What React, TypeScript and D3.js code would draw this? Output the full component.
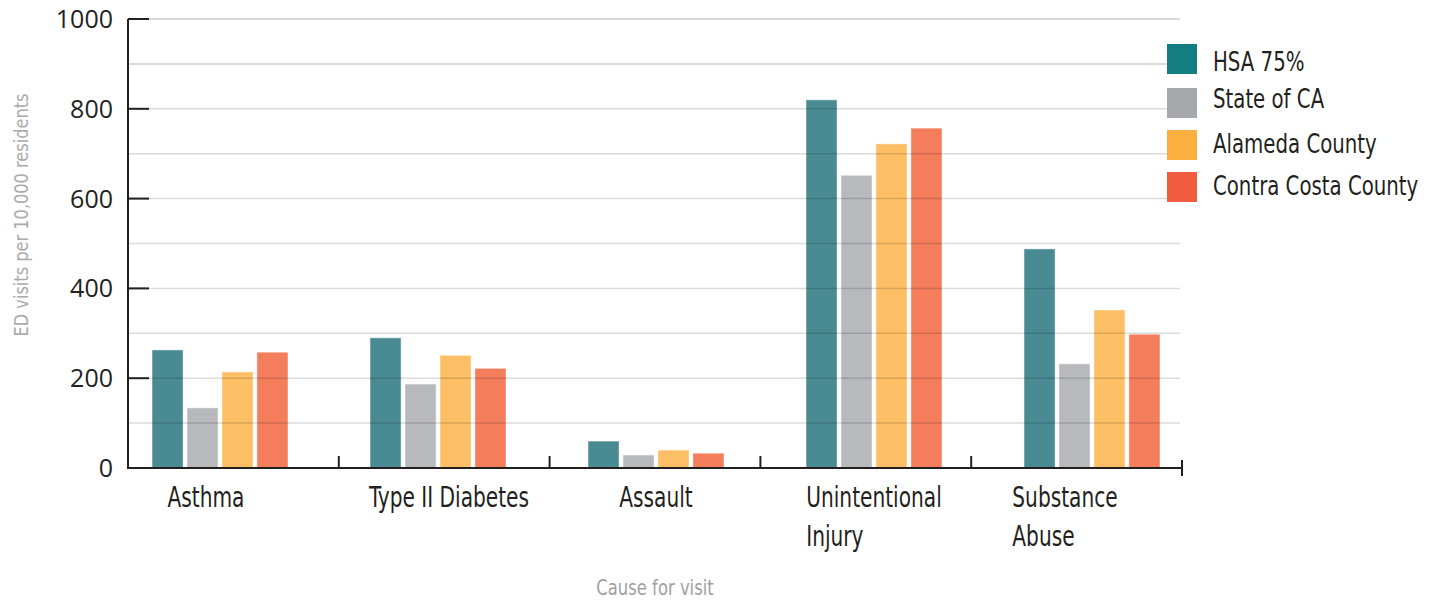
import { useRef, useEffect } from 'react';
import * as d3 from 'd3';

const CATEGORIES = ['Asthma', 'Type II Diabetes', 'Assault', 'Unintentional Injury', 'Substance Abuse'];
const CATEGORY_LINES = [['Asthma'], ['Type II Diabetes'], ['Assault'], ['Unintentional', 'Injury'], ['Substance', 'Abuse']];
const SERIES = ['HSA 75%', 'State of CA', 'Alameda County', 'Contra Costa County'];

const HSA = [263, 290, 60, 820, 488];
const STATE = [134, 187, 29, 652, 232];
const ALAMEDA = [214, 251, 40, 722, 352];
const CONTRA = [258, 222, 33, 757, 298];
const VALUES = [HSA, STATE, ALAMEDA, CONTRA];

const Y_TICKS = [0, 200, 400, 600, 800, 1000];
const GRID_TICKS = d3.range(100, 1001, 100);

const LEGEND_COLORS = ['#127e82', '#a7a8ab', '#fbaf3e', '#f15b40'];
const BAR_COLORS = ['#4a8b93', '#b8b9bc', '#fcbf66', '#f47d5c'];

const NARROW = "'DejaVu Sans Condensed', 'DejaVu Sans', sans-serif";

const WIDTH = 1436;
const HEIGHT = 601;

export default function App() {
  const svgRef = useRef<SVGSVGElement>(null);

  useEffect(() => {
    document.body.style.margin = '0';
    if (!svgRef.current) return;
    const svg = d3.select(svgRef.current);
    svg.selectAll('*').remove();

    const left = 128;
    const right = 1182;
    const top = 19;
    const bottom = 468;

    const y = d3.scaleLinear().domain([0, 1000]).range([bottom, top]);

    // category boundaries for the axis ticks
    const xAxis = d3.scaleBand().domain(CATEGORIES).range([left, right]);

    // bar groups
    const x0 = d3.scaleBand().domain(CATEGORIES).range([152, 1160]).paddingInner(0.376).paddingOuter(0);
    const x1 = d3.scaleBand().domain(SERIES).range([0, x0.bandwidth()]).paddingInner(0.11);

    // bars
    SERIES.forEach((s, si) => {
      svg
        .append('g')
        .selectAll('rect')
        .data(VALUES[si])
        .join('rect')
        .attr('x', (_, i) => (x0(CATEGORIES[i]) as number) + (x1(s) as number))
        .attr('y', (d) => y(d))
        .attr('width', x1.bandwidth())
        .attr('height', (d) => bottom - y(d))
        .attr('fill', BAR_COLORS[si])
        .attr('stroke', 'rgba(255,255,255,0.5)')
        .attr('stroke-width', 1);
    });

    // gridlines drawn on top, translucent
    svg
      .append('g')
      .selectAll('line')
      .data(GRID_TICKS)
      .join('line')
      .attr('x1', left)
      .attr('x2', right - 2)
      .attr('y1', (d) => y(d))
      .attr('y2', (d) => y(d))
      .attr('stroke', '#000')
      .attr('stroke-opacity', (d) => (d >= 900 ? 0.2 : 0.14))
      .attr('stroke-width', 1.5);

    // y axis
    const axisColor = '#231f20';
    svg
      .append('line')
      .attr('x1', left)
      .attr('x2', left)
      .attr('y1', top)
      .attr('y2', bottom)
      .attr('stroke', axisColor)
      .attr('stroke-width', 2);
    svg
      .append('g')
      .selectAll('line')
      .data(Y_TICKS)
      .join('line')
      .attr('x1', left)
      .attr('x2', left + 21)
      .attr('y1', (d) => y(d))
      .attr('y2', (d) => y(d))
      .attr('stroke', axisColor)
      .attr('stroke-width', 2);
    svg
      .append('g')
      .selectAll('text')
      .data(Y_TICKS)
      .join('text')
      .attr('x', 113)
      .attr('y', (d) => y(d) + 9)
      .attr('text-anchor', 'end')
      .attr('font-family', "'Open Sans', sans-serif")
      .attr('font-size', 25)
      .attr('fill', '#222')
      .text((d) => String(d));

    // x axis
    svg
      .append('line')
      .attr('x1', left - 1)
      .attr('x2', right)
      .attr('y1', bottom)
      .attr('y2', bottom)
      .attr('stroke', axisColor)
      .attr('stroke-width', 2);
    const bounds = CATEGORIES.slice(1).map((c) => xAxis(c) as number).concat([right]);
    svg
      .append('g')
      .selectAll('line')
      .data(bounds)
      .join('line')
      .attr('x1', (d) => d)
      .attr('x2', (d) => d)
      .attr('y1', (_, i) => (i === bounds.length - 1 ? bottom - 8 : bottom - 12))
      .attr('y2', (_, i) => (i === bounds.length - 1 ? bottom + 8 : bottom))
      .attr('stroke', axisColor)
      .attr('stroke-width', 2);

    // the original uses a condensed face; squeeze the fallback horizontally
    const narrowText = (x: number, yy: number, f: number) =>
      svg
        .append('text')
        .attr('transform', `translate(${x},${yy}) scale(${f},1)`)
        .attr('font-family', NARROW);

    // legend
    const legendTops = [44, 88, 130, 172];
    const legendBase = [71, 108, 153, 195];
    SERIES.forEach((s, i) => {
      svg
        .append('rect')
        .attr('x', 1167)
        .attr('y', legendTops[i])
        .attr('width', 30)
        .attr('height', 30)
        .attr('fill', LEGEND_COLORS[i]);
      narrowText(1213, legendBase[i], 0.845)
        .attr('font-size', 26)
        .attr('fill', '#231f20')
        .text(s);
    });

    // category labels: left-aligned blocks, nudged as in the original layout
    const labelShift = [-14, 11, 0, 0, -27];
    const LF = 0.8;
    CATEGORY_LINES.forEach((lines, i) => {
      const cx = (x0(CATEGORIES[i]) as number) + x0.bandwidth() / 2 + labelShift[i];
      const t = narrowText(0, 0, LF).attr('font-size', 28).attr('fill', '#231f20');
      const spans = lines.map((ln, li) => t.append('tspan').attr('x', 0).attr('y', 507 + li * 39).text(ln));
      const w = d3.max(spans, (sp) => (sp.node() as SVGTSpanElement).getComputedTextLength()) || 0;
      t.attr('transform', `translate(${cx - (w * LF) / 2},0) scale(${LF},1)`);
    });

    // axis titles
    svg
      .append('text')
      .attr('transform', `translate(28, 215) rotate(-90) scale(0.9,1)`)
      .attr('text-anchor', 'middle')
      .attr('font-family', NARROW)
      .attr('font-weight', 200)
      .attr('font-size', 20)
      .attr('fill', '#ababab')
      .text('ED visits per 10,000 residents');
    narrowText(655, 595, 0.83)
      .attr('text-anchor', 'middle')
      .attr('font-size', 22)
      .attr('fill', '#a0a0a0')
      .text('Cause for visit');
  }, []);

  return <svg ref={svgRef} width={WIDTH} height={HEIGHT} style={{ display: 'block', background: '#fff' }} />;
}
